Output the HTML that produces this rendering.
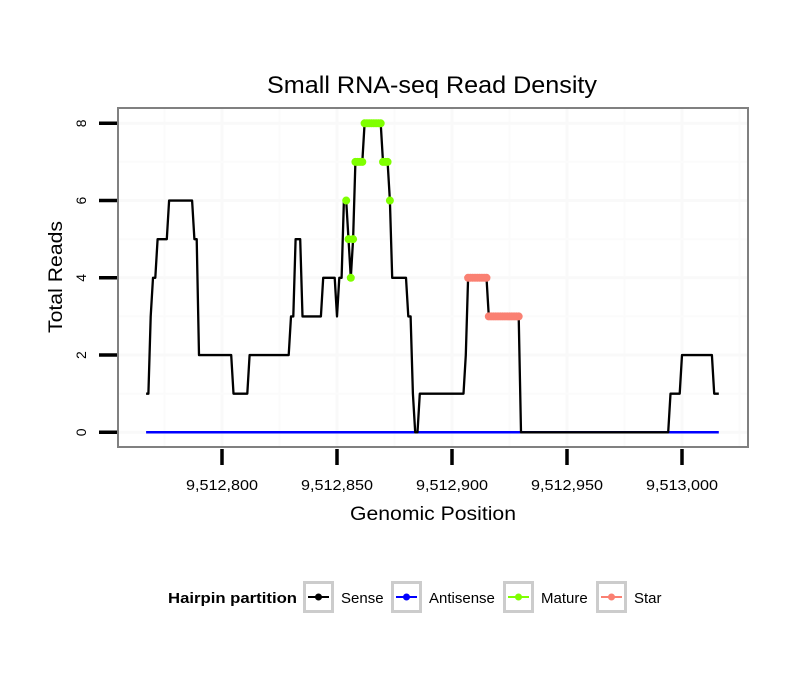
<!DOCTYPE html>
<html><head><meta charset="utf-8"><style>
html,body{margin:0;padding:0;background:#fff;}
svg{display:block;font-family:"Liberation Sans",sans-serif;}
</style></head>
<body>
<svg id="chart" width="810" height="690" viewBox="0 0 810 690" xmlns="http://www.w3.org/2000/svg">
<rect width="810" height="690" fill="#fff"/>
<text x="432" y="93" font-size="24" text-anchor="middle" fill="#000" textLength="330" lengthAdjust="spacingAndGlyphs">Small RNA-seq Read Density</text>
<g id="grid"></g>
<g id="series"></g>
<rect x="118" y="108" width="630" height="339" fill="none" stroke="#808080" stroke-width="2"/>
<g id="axes"></g>
<text x="433" y="520" font-size="19" text-anchor="middle" textLength="166" lengthAdjust="spacingAndGlyphs">Genomic Position</text>
<text transform="translate(62,277) rotate(-90)" font-size="19" text-anchor="middle" textLength="112" lengthAdjust="spacingAndGlyphs">Total Reads</text>
<g>
<text x="168" y="603" font-size="15" font-weight="bold" textLength="129" lengthAdjust="spacingAndGlyphs">Hairpin partition</text>
<g id="legend"></g>
</g>
</svg>
<script>
const runStarts = [9512767,9512769,9512770,9512772,9512777,9512788,9512790,9512805,9512812,9512830,9512832,9512835,9512844,9512850,9512851,9512853,9512855,9512856,9512857,9512858,9512862,9512870,9512873,9512874,9512881,9512883,9512884,9512886,9512906,9512907,9512916,9512930,9512995,9513000,9513014];
const runValues = [1,3,4,5,6,5,2,1,2,3,5,3,4,3,4,6,5,4,5,7,8,7,6,4,3,1,0,1,2,4,3,0,1,2,1];
const lastPos = 9513016;
const matureRange = [9512854, 9512873];
const starRange = [9512907, 9512929];
const antisenseValue = 0;
const xTicks = [9512800,9512850,9512900,9512950,9513000];
const xTickLabels = ["9,512,800","9,512,850","9,512,900","9,512,950","9,513,000"];
const xMinorGrid = [9512775,9512825,9512875,9512925,9512975,9513025];
const yTicks = [0,2,4,6,8];
const yMinorGrid = [1,3,5,7];
const legendLabels = ["Sense","Antisense","Mature","Star"];
const legendColors = ["#000000","#0000ff","#7fff00","#fa8072"];

const NS="http://www.w3.org/2000/svg";
const xs = v => 222 + (v-9512800)*2.3;
const ys = v => 432.3 - v*(309/8);
function mk(tag, attrs, parent){const e=document.createElementNS(NS,tag);for(const k in attrs)e.setAttribute(k,attrs[k]);parent.appendChild(e);return e;}

const pos=[],val=[];
for(let i=0;i<runStarts.length;i++){
  const end = i+1<runStarts.length ? runStarts[i+1]-1 : lastPos;
  for(let p=runStarts[i];p<=end;p++){pos.push(p);val.push(runValues[i]);}
}
const grid=document.getElementById('grid');
xMinorGrid.forEach(v=>{if(xs(v)>118&&xs(v)<748){const l=mk('line',{x1:xs(v),x2:xs(v),y1:109,y2:446,stroke:'#fbfbfb','stroke-width':2},grid);

}});
xTicks.forEach(v=>{const l=mk('line',{x1:xs(v),x2:xs(v),y1:109,y2:446,stroke:'#f9f9f9','stroke-width':3},grid);

});
yMinorGrid.forEach(v=>{const l=mk('line',{x1:119,x2:747,y1:ys(v),y2:ys(v),stroke:'#fbfbfb','stroke-width':2},grid);

});
yTicks.forEach(v=>{const l=mk('line',{x1:119,x2:747,y1:ys(v),y2:ys(v),stroke:'#f9f9f9','stroke-width':3},grid);

});

const s=document.getElementById('series');
const anti=mk('line',{x1:xs(pos[0]),x2:xs(lastPos),y1:ys(antisenseValue),y2:ys(antisenseValue),stroke:'#0000ff','stroke-width':2.5},s);


const sense=mk('polyline',{points:pos.map((p,i)=>xs(p)+','+ys(val[i])).join(' '),fill:'none',stroke:'#000','stroke-width':2.3,'stroke-linejoin':'round'},s);


pos.forEach((p,i)=>{
  if(p>=matureRange[0]&&p<=matureRange[1]){const c=mk('circle',{cx:xs(p),cy:ys(val[i]),r:4,fill:'#7fff00'},s);
  
  }
  if(p>=starRange[0]&&p<=starRange[1]){const c=mk('circle',{cx:xs(p),cy:ys(val[i]),r:4,fill:'#fa8072'},s);
  
  }
});

const ax=document.getElementById('axes');
yTicks.forEach(v=>{
  const t=mk('line',{x1:99,x2:117,y1:ys(v),y2:ys(v),stroke:'#000','stroke-width':3.5},ax);
  
  
  const tx=mk('text',{transform:`translate(86,${ys(v)}) rotate(-90)`,'font-size':14,'text-anchor':'middle'},ax);
  tx.textContent=v;
  
  
});
xTicks.forEach((v,i)=>{
  const t=mk('line',{x1:xs(v),x2:xs(v),y1:449,y2:465,stroke:'#000','stroke-width':3.5},ax);
  
  
  const tx=mk('text',{x:xs(v),y:490,'font-size':15,'text-anchor':'middle',textLength:72,lengthAdjust:'spacingAndGlyphs'},ax);
  tx.textContent=xTickLabels[i];
  
  
});

const lg=document.getElementById('legend');
const boxX=[303,391,503,596];
legendLabels.forEach((lab,i)=>{
  const g=mk('g',{},lg);
  
  
  mk('rect',{x:boxX[i]+1.5,y:582.5,width:28,height:29,fill:'#fff',stroke:'#cccccc','stroke-width':3},g);
  mk('line',{x1:boxX[i]+5,x2:boxX[i]+26,y1:597,y2:597,stroke:legendColors[i],'stroke-width':2},g);
  mk('circle',{cx:boxX[i]+15.5,cy:597,r:3.5,fill:legendColors[i]},g);
  const t=mk('text',{x:boxX[i]+38,y:603,'font-size':15},g);
  t.textContent=lab;
});
</script>
</body></html>
